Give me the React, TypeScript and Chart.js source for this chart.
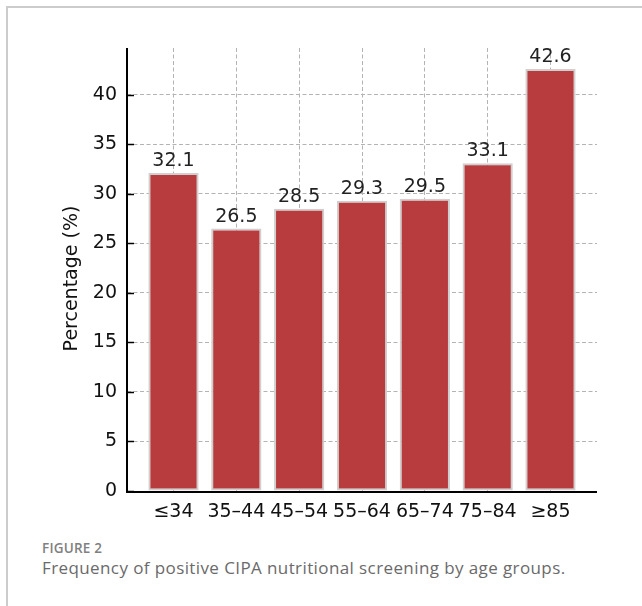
import React, { useEffect, useRef } from "react";
import { Chart, registerables } from "chart.js";

Chart.register(...registerables);

// Age groups and share of positive nutritional screening (%)
const AGE_GROUPS: string[] = ["≤34", "35–44", "45–54", "55–64", "65–74", "75–84", "≥85"];
const PERCENTAGES: number[] = [32.1, 26.5, 28.5, 29.3, 29.5, 33.1, 42.6];
const Y_TICKS: number[] = [0, 5, 10, 15, 20, 25, 30, 35, 40];
const Y_TITLE = "Percentage (%)";

const FONT = "'DejaVu Sans', sans-serif";
const FONT_SIZE = 19;
const BAR_COLOR = "#b83c3e";
const BAR_EDGE = "#cfcfcf";
const GRID_COLOR = "#b3b3b3";

// Axis spines, inward ticks, axis title and value labels drawn on top of the bars
const overlayPlugin = {
  id: "overlay",
  afterDatasetsDraw(chart: any) {
    const { ctx, chartArea, scales } = chart;
    const y = scales.y;
    ctx.save();
    ctx.strokeStyle = "#000";
    ctx.lineCap = "butt";

    // inward tick marks on the value axis
    ctx.lineWidth = 1.5;
    for (const v of Y_TICKS) {
      const py = Math.round(y.getPixelForValue(v)) + 0.5;
      ctx.beginPath();
      ctx.moveTo(chartArea.left, py);
      ctx.lineTo(chartArea.left + 7, py);
      ctx.stroke();
    }

    // left and bottom spines
    ctx.lineWidth = 2;
    ctx.beginPath();
    ctx.moveTo(chartArea.left, chartArea.top);
    ctx.lineTo(chartArea.left, chartArea.bottom + 1);
    ctx.lineTo(chartArea.right, chartArea.bottom + 1);
    ctx.stroke();

    // value labels above each bar
    const meta = chart.getDatasetMeta(0);
    ctx.fillStyle = "#222";
    ctx.font = `${FONT_SIZE}px ${FONT}`;
    ctx.textAlign = "center";
    ctx.textBaseline = "alphabetic";
    meta.data.forEach((bar: any, i: number) => {
      ctx.fillText(PERCENTAGES[i].toFixed(1), bar.x, bar.y - 7);
    });

    // rotated value-axis title
    ctx.fillStyle = "#111";
    ctx.translate(72, (chartArea.top + chartArea.bottom) / 2 + 9);
    ctx.rotate(-Math.PI / 2);
    ctx.textBaseline = "middle";
    ctx.fillText(Y_TITLE, 0, 0);
    ctx.restore();
  },
};

function BarChart() {
  const canvasRef = useRef<HTMLCanvasElement | null>(null);

  useEffect(() => {
    if (!canvasRef.current) return;
    const chart = new Chart(canvasRef.current, {
      type: "bar",
      data: {
        datasets: [
          {
            data: PERCENTAGES.map((v, i) => ({ x: i, y: v })),
            backgroundColor: BAR_COLOR,
            borderColor: BAR_EDGE,
            borderWidth: 2,
            borderSkipped: false,
            categoryPercentage: 0.8,
            barPercentage: 1,
          },
        ],
      },
      options: {
        animation: false,
        responsive: false,
        maintainAspectRatio: false,
        devicePixelRatio: 1,
        layout: { padding: { top: 48, right: 45, left: 0, bottom: 0 } },
        plugins: {
          legend: { display: false },
          tooltip: { enabled: false },
        },
        scales: {
          x: {
            type: "linear",
            offset: false,
            min: -0.74,
            max: 6.74,
            afterBuildTicks: (scale: any) => {
              scale.ticks = AGE_GROUPS.map((_, i) => ({ value: i }));
            },
            afterFit: (scale: any) => {
              scale.height = 39;
            },
            ticks: {
              autoSkip: false,
              maxRotation: 0,
              padding: 10,
              color: "#111",
              font: { family: FONT, size: FONT_SIZE },
              callback: (v: any) => AGE_GROUPS[v as number],
            },
            grid: { color: GRID_COLOR, lineWidth: 1, drawTicks: false, offset: false },
            border: { display: false, dash: [4, 2.5] },
          },
          y: {
            min: 0,
            max: 44.73,
            afterBuildTicks: (scale: any) => {
              scale.ticks = Y_TICKS.map((v) => ({ value: v }));
            },
            afterFit: (scale: any) => {
              scale.width = 127;
            },
            ticks: {
              padding: 10,
              color: "#111",
              font: { family: FONT, size: FONT_SIZE },
            },
            grid: { color: GRID_COLOR, lineWidth: 1, drawTicks: false },
            border: { display: false, dash: [4, 2.5] },
          },
        },
      },
      plugins: [overlayPlugin],
    });
    return () => chart.destroy();
  }, []);

  return <canvas ref={canvasRef} width={642} height={530} style={{ display: "block" }} />;
}

export default function App() {
  return (
    <div
      style={{
        position: "absolute",
        left: 0,
        top: 0,
        width: 642,
        height: 606,
        background: "#fff",
        overflow: "hidden",
      }}
    >
      <div
        style={{
          position: "absolute",
          left: 6,
          top: 6,
          width: 700,
          height: 700,
          borderLeft: "2px solid #cccccc",
          borderTop: "2px solid #cccccc",
        }}
      />
      <div style={{ position: "absolute", left: 0, top: 0 }}>
        <BarChart />
      </div>
      <div
        style={{
          position: "absolute",
          left: 42,
          top: 539,
          fontFamily: "'Open Sans', sans-serif",
          fontWeight: 600,
          fontSize: 13.5,
          lineHeight: "normal",
          color: "#808080",
          letterSpacing: 0.2,
          whiteSpace: "nowrap",
        }}
      >
        FIGURE 2
      </div>
      <div
        style={{
          position: "absolute",
          left: 42,
          top: 556,
          fontFamily: "'Open Sans', sans-serif",
          fontWeight: 400,
          fontSize: 17,
          lineHeight: "normal",
          color: "#6a6a6a",
          letterSpacing: 0.4,
          whiteSpace: "nowrap",
        }}
      >
        Frequency of positive CIPA nutritional screening by age groups.
      </div>
    </div>
  );
}
